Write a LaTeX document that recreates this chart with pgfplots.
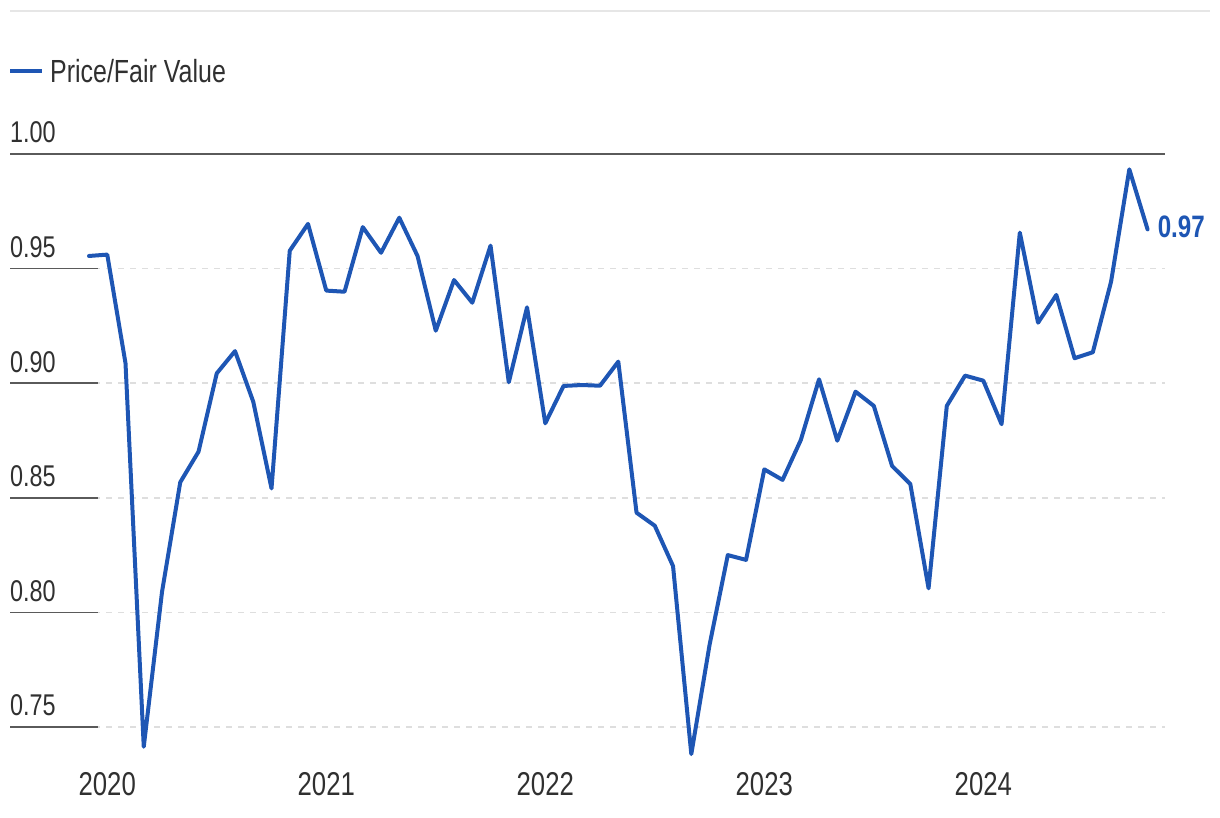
\documentclass[border=0pt]{standalone}
\usepackage{pgfplots}
\pgfplotsset{compat=1.18}
\usepackage{pgfplotstable}
\usepackage{fontspec}
\setmainfont{Liberation Sans}[FakeStretch=0.78]
\definecolor{pfv}{HTML}{1E56B4}
\definecolor{txt}{HTML}{303030}
\definecolor{gridc}{HTML}{DEDEDE}
\definecolor{axc}{HTML}{5A5A5A}
\definecolor{topc}{HTML}{E6E6E6}

\pgfplotstableread{
i v
0 0.9555
1 0.9561
2 0.9087
3 0.7414
4 0.8089
5 0.8568
6 0.8701
7 0.9043
8 0.9140
9 0.8919
10 0.8541
11 0.9578
12 0.9695
13 0.9404
14 0.9399
15 0.9681
16 0.9569
17 0.9722
18 0.9555
19 0.9229
20 0.9450
21 0.9351
22 0.9600
23 0.9004
24 0.9331
25 0.8825
26 0.8988
27 0.8992
28 0.8989
29 0.9094
30 0.8435
31 0.8378
32 0.8202
33 0.7382
34 0.7858
35 0.8250
36 0.8229
37 0.8624
38 0.8578
39 0.8752
40 0.9017
41 0.8749
42 0.8963
43 0.8901
44 0.8639
45 0.8560
46 0.8105
47 0.8901
48 0.9033
49 0.9011
50 0.8821
51 0.9657
52 0.9264
53 0.9385
54 0.9109
55 0.9135
56 0.9443
57 0.9933
58 0.9671
}\pfvdata

\begin{document}
\begin{tikzpicture}
\path[use as bounding box] (0,0) rectangle (1220pt,818pt);
\draw[topc, line width=2pt] (10pt,807pt) -- (1210pt,807pt);
\draw[pfv, line width=3.5pt] (10pt,747pt) -- (42pt,747pt);
\node[anchor=base west, inner sep=0pt, text=txt, font=\fontsize{32}{38}\selectfont] at (50pt,735pt) {Price/Fair Value};
\begin{axis}[
  at={(10pt,664pt)}, anchor=north west,
  scale only axis, width=1155pt, height=606pt,
  xmin=-4.3288, xmax=58.959, ymin=0.7356, ymax=1.0,
  clip=false,
  axis line style={draw=none},
  major tick style={draw=none},
  minor tick num=0,
  xtick={1,13,25,37,49},
  xticklabels={2020,2021,2022,2023,2024},
  xticklabel style={anchor=base, inner sep=0pt, yshift=-36pt, font=\fontsize{33}{38}\selectfont, text=txt},
  ytick={0.75,0.8,0.85,0.9,0.95,1.0},
  yticklabels={0.75,0.80,0.85,0.90,0.95,1.00},
  yticklabel style={anchor=base west, inner sep=0pt, yshift=11pt, font=\fontsize{30}{36}\selectfont, text=txt},
  ymajorgrids,
  grid style={gridc, line width=1.5pt, dash pattern=on 6pt off 6pt},
]
\addplot[pfv, line width=4pt, line join=round, line cap=round] table[x=i,y=v]{\pfvdata};
\pgfplotsinvokeforeach{0.75,0.8,0.85,0.9,0.95}{
  \draw[axc, line width=1.5pt] (axis cs:-4.3288,#1) -- (axis cs:0.493,#1);
}
\draw[axc, line width=1.5pt] (axis cs:-4.3288,1) -- (axis cs:58.959,1);
\node[anchor=base west, inner sep=0pt, xshift=10pt, yshift=-8pt, text=pfv, font=\fontsize{31}{36}\selectfont\bfseries] at (axis cs:58,0.9671) {0.97};
\end{axis}
\end{tikzpicture}
\end{document}
